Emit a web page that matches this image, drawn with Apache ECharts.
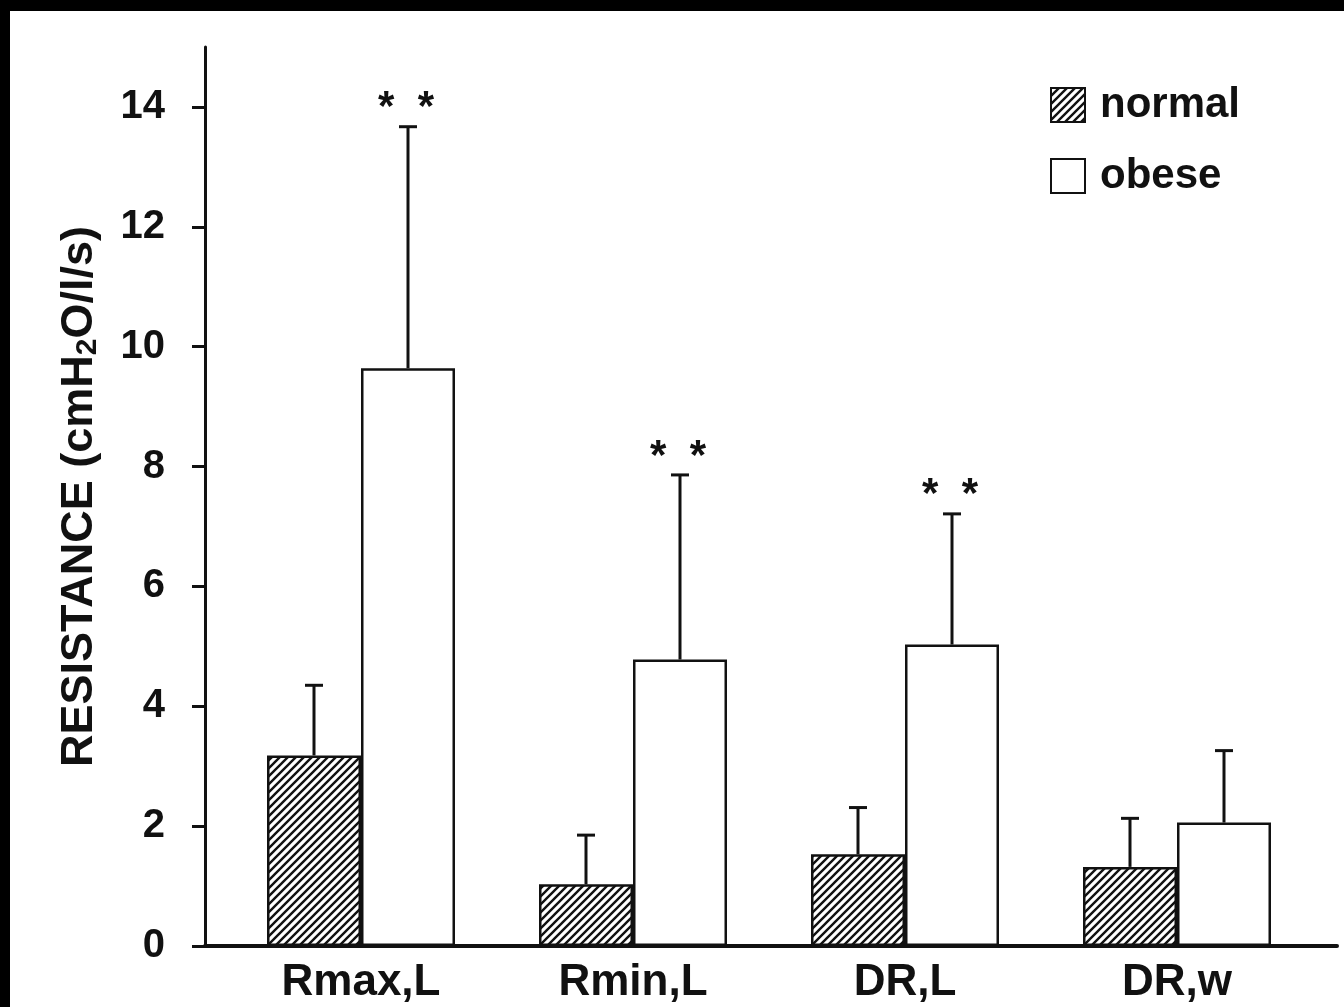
<!DOCTYPE html>
<html>
<head>
<meta charset="utf-8">
<script src="https://cdn.jsdelivr.net/npm/echarts@6/dist/echarts.min.js"></script>
<style>
html,body{margin:0;padding:0;background:#000;width:1344px;height:1007px;overflow:hidden;}
#chart{position:absolute;left:10px;top:11px;width:1334px;height:996px;background:#fff;}
</style>
</head>
<body>
<div id="chart"></div>
<script>
const categories = ['Rmax,L', 'Rmin,L', 'DR,L', 'DR,w'];
const normalMean = [3.18, 1.03, 1.53, 1.32];
const normalUpper = [4.35, 1.85, 2.31, 2.13];
const obeseMean = [9.64, 4.78, 5.03, 2.06];
const obeseUpper = [13.67, 7.86, 7.21, 3.26];
const obeseSig = ['* *', '* *', '* *', ''];
const normalSig = ['', '', '', ''];
const yTicks = [0, 2, 4, 6, 8, 10, 12, 14];

const FONT = '"Liberation Sans", Arial, sans-serif';
const BAR_W = 94;

// hatch pattern
const pc = document.createElement('canvas');
const S = 8;
pc.width = S; pc.height = S;
const g = pc.getContext('2d');
g.fillStyle = '#fff'; g.fillRect(0, 0, S, S);
g.strokeStyle = '#111'; g.lineWidth = 2.4;
g.beginPath();
g.moveTo(0, S); g.lineTo(S, 0);
g.moveTo(-S / 2, S / 2); g.lineTo(S / 2, -S / 2);
g.moveTo(S / 2, S * 1.5); g.lineTo(S * 1.5, S / 2);
g.stroke();

function errSeries(name, mean, upper, sig, offset) {
  return {
    type: 'custom', name: name + '_err', xAxisIndex: 0, yAxisIndex: 0, z: 5,
    data: categories.map((c, i) => [i, mean[i], upper[i]]),
    renderItem: function (params, api) {
      const i = api.value(0);
      const p0 = api.coord([i, api.value(1)]);
      const p1 = api.coord([i, api.value(2)]);
      const x = p0[0] + offset;
      const s = sig[params.dataIndex];
      const children = [
        { type: 'line', shape: { x1: x, y1: p0[1], x2: x, y2: p1[1] }, style: { stroke: '#111', lineWidth: 3 } },
        { type: 'line', shape: { x1: x - 9, y1: p1[1], x2: x + 9, y2: p1[1] }, style: { stroke: '#111', lineWidth: 3 } }
      ];
      if (s) {
        children.push({ type: 'text', x: x - 2, y: p1[1] - 18, style: { text: s.split(' ').join('  '), fill: '#111', font: 'bold 42px ' + FONT, align: 'center', verticalAlign: 'middle' } });
      }
      return { type: 'group', children: children };
    }
  };
}

const chart = echarts.init(document.getElementById('chart'));
chart.setOption({
  animation: false,
  backgroundColor: '#fff',
  grid: [
    { left: 215, top: 36, width: 1088, height: 899 },
    { left: 195, top: 36, width: 1132, height: 899 }
  ],
  legend: {
    data: ['normal', 'obese'],
    orient: 'vertical', left: 1035, top: 68, icon: 'rect',
    itemWidth: 34, itemHeight: 34, itemGap: 29,
    textStyle: { fontFamily: FONT, fontSize: 42, fontWeight: 'bold', color: '#111', padding: [0, 0, 0, 10] }
  },
  xAxis: [
    {
      type: 'category', gridIndex: 0, data: categories,
      axisLine: { show: false }, axisTick: { show: false },
      axisLabel: { fontFamily: FONT, fontSize: 44, fontWeight: 'bold', color: '#111', margin: 15 }
    },
    {
      type: 'value', gridIndex: 1, min: 0, max: 1,
      axisLine: { show: true, lineStyle: { color: '#111', width: 4 } },
      axisTick: { show: false }, axisLabel: { show: false }, splitLine: { show: false }
    }
  ],
  yAxis: [
    { type: 'value', gridIndex: 0, min: 0, max: 15, show: false, splitLine: { show: false } },
    {
      type: 'value', gridIndex: 1, min: 0, max: 15,
      name: 'RESISTANCE (cmH{sub|2}O/l/s)',
      nameLocation: 'middle', nameRotate: 90, nameGap: 102,
      nameTextStyle: {
        fontFamily: FONT, fontSize: 45, fontWeight: 'bold', color: '#111',
        rich: { sub: { fontFamily: FONT, fontSize: 30, fontWeight: 'bold', color: '#111', verticalAlign: 'bottom', padding: [16, 0, 0, 0] } }
      },
      axisLine: { show: true, lineStyle: { color: '#111', width: 3 } },
      axisTick: { show: true, length: 13, lineStyle: { color: '#111', width: 3 }, customValues: yTicks },
      axisLabel: { fontFamily: FONT, fontSize: 40, fontWeight: 'bold', color: '#111', margin: 40, customValues: yTicks },
      splitLine: { show: false }
    }
  ],
  series: [
    {
      name: 'normal', type: 'bar', xAxisIndex: 0, yAxisIndex: 0,
      data: normalMean, barWidth: BAR_W, barGap: '0%',
      itemStyle: { color: { image: pc, repeat: 'repeat' }, borderColor: '#111', borderWidth: 2.5 }
    },
    {
      name: 'obese', type: 'bar', xAxisIndex: 0, yAxisIndex: 0,
      data: obeseMean, barWidth: BAR_W, barGap: '0%',
      itemStyle: { color: '#fff', borderColor: '#111', borderWidth: 2.5 }
    },
    errSeries('normal', normalMean, normalUpper, normalSig, -BAR_W / 2),
    errSeries('obese', obeseMean, obeseUpper, obeseSig, BAR_W / 2)
  ]
});
</script>
</body>
</html>
